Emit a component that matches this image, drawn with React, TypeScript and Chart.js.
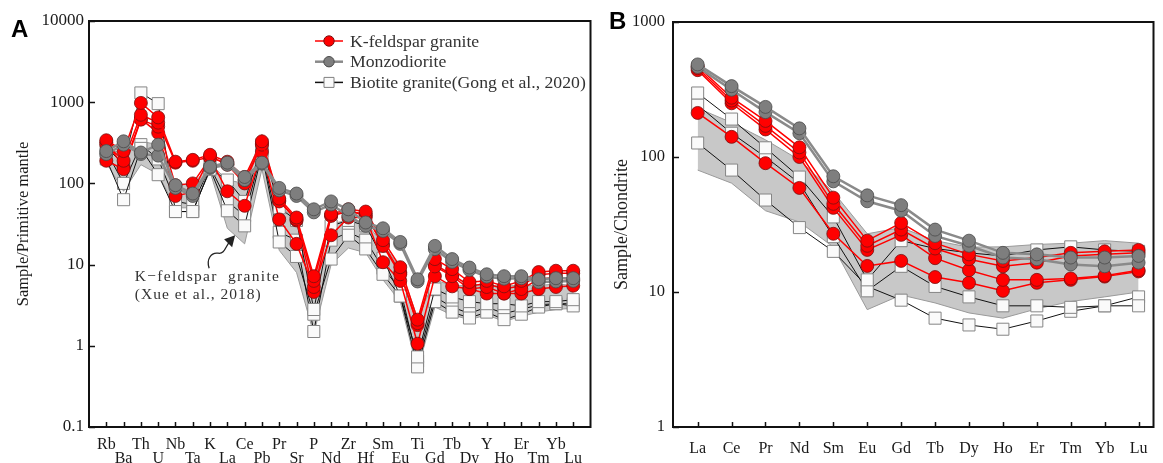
import React, { useEffect, useRef } from 'react';
import { Chart, registerables } from 'chart.js';

Chart.register(...registerables);

// ---------------- Panel A : primitive-mantle normalised spider diagram ----------------
const traceElements = ['Rb', 'Ba', 'Th', 'U', 'Nb', 'Ta', 'K', 'La', 'Ce', 'Pb', 'Pr', 'Sr', 'P', 'Nd', 'Zr', 'Hf', 'Sm', 'Eu', 'Ti', 'Gd', 'Tb', 'Dy', 'Y', 'Ho', 'Er', 'Tm', 'Yb', 'Lu'];
const traceYTicks = [0.1, 1, 10, 100, 1000, 10000];

const kfsTrace1 = [340, 250, 980, 650, 185, 195, 225, 185, 120, 330, 65, 38, 7.2, 42, 48, 45, 20, 9.3, 2.1, 11.7, 8.8, 6.1, 6.3, 5.4, 6.3, 8.1, 8.4, 8.4];
const kfsTrace2 = [300, 190, 700, 560, 180, 190, 210, 175, 110, 300, 60, 36, 6.3, 40, 45, 42, 17, 7.6, 1.9, 9.5, 7.2, 5.0, 5.3, 4.4, 5.0, 6.6, 7.0, 6.5];
const kfsTrace3 = [190, 150, 610, 500, 95, 100, 205, 80, 53, 245, 36, 18, 5.3, 23, 38, 38, 10.7, 6.3, 1.06, 7.2, 5.4, 5.0, 4.4, 4.4, 4.4, 5.0, 5.3, 5.5];
const kfsTrace4 = [320, 160, 620, 420, 70, 78, 215, 170, 100, 310, 62, 35, 4.6, 40, 46, 40, 18, 8.0, 1.8, 10, 7.5, 5.5, 5.8, 5.0, 5.5, 7.5, 7.8, 7.8];

const monzTrace1 = [250, 330, 240, 300, 95, 75, 160, 180, 120, 180, 88, 75, 48, 60, 48, 33, 28, 19, 6.6, 17, 11.7, 9.2, 7.6, 7.2, 7.2, 6.6, 6.8, 6.8];
const monzTrace2 = [230, 300, 230, 220, 88, 70, 155, 170, 110, 175, 82, 70, 44, 55, 40, 30, 26, 18, 6.2, 15.5, 10.8, 8.6, 7.1, 6.7, 6.8, 6.1, 6.2, 6.3];

const bioTrace1 = [280, 170, 1300, 960, 45, 45, 150, 110, 60, 300, 50, 35, 2.8, 30, 35, 30, 12, 4.1, 0.73, 5.0, 4.0, 3.5, 3.3, 3.3, 3.1, 3.5, 3.5, 3.7];
const bioTrace2 = [200, 63, 270, 128, 45, 45, 150, 46, 30, 230, 19, 12.6, 2.45, 11.7, 23, 15.6, 7.6, 4.1, 0.55, 3.5, 2.6, 2.2, 2.6, 2.1, 2.45, 3.0, 3.3, 3.1];
const bioTrace3 = [250, 100, 300, 200, 60, 55, 160, 60, 40, 250, 25, 20, 1.5, 20, 25, 20, 9, 5.0, 0.65, 4.0, 3.0, 2.5, 3.0, 2.5, 2.8, 3.2, 3.3, 3.3];

const xueUpperTrace = [270, 230, 330, 300, 100, 95, 175, 110, 100, 400, 55, 35, 7, 32, 35, 33, 18, 9, 2.2, 6.5, 5.5, 5.5, 5.5, 5.5, 5.5, 5.5, 5.8, 5.5];
const xueLowerTrace = [180, 80, 170, 130, 50, 50, 140, 28, 18, 150, 15, 8, 1.4, 10, 16, 14, 6.5, 3.5, 0.5, 3.0, 2.4, 2.1, 2.4, 2.0, 2.3, 2.6, 2.8, 2.9];

// ---------------- Panel B : chondrite-normalised REE diagram ----------------
const reeElements = ['La', 'Ce', 'Pr', 'Nd', 'Sm', 'Eu', 'Gd', 'Tb', 'Dy', 'Ho', 'Er', 'Tm', 'Yb', 'Lu'];
const reeYTicks = [1, 10, 100, 1000];

const kfsRee1 = [470, 275, 185, 118, 50, 24, 32.5, 23, 19, 17, 18, 19.5, 20, 20.5];
const kfsRee2 = [455, 262, 170, 108, 45, 22, 29, 21, 17.5, 15.5, 16.5, 18.5, 19, 19.5];
const kfsRee3 = [440, 250, 160, 100, 42, 20.5, 26.5, 17.8, 14.5, 12.3, 12.3, 12.6, 13.2, 14.5];
const kfsRee4 = [212, 141, 90, 59, 27, 15.6, 17, 12.9, 11.7, 10.2, 11.7, 12.3, 13, 14.2];

const monzRee1 = [485, 335, 235, 163, 72, 52, 44, 29, 24, 19.5, 19, 18, 18, 18.5];
const monzRee2 = [465, 315, 215, 150, 66, 47, 40, 26, 22, 18, 17.5, 16, 15.5, 16.5];

const bioRee1 = [298, 191, 117, 71, 36, 12.3, 24, 21, 19.5, 18.5, 20.5, 21.6, 20.5, 20];
const bioRee2 = [243, 150, 100, 64, 25.7, 10.2, 15.5, 11, 9.2, 7.9, 7.9, 7.7, 7.9, 7.9];
const bioRee3 = [127, 80, 48, 30, 20, 11, 8.7, 6.4, 5.7, 5.3, 6.1, 7.2, 7.9, 9.2];

const xueUpperRee = [230, 180, 134, 95, 55, 27, 30, 24, 21.5, 21.6, 22.5, 23, 24, 23];
const xueLowerRee = [80, 64, 40, 33, 21.6, 7.4, 9.5, 8.3, 7, 6.4, 7.5, 8.5, 9.2, 10];

// ---------------- styling ----------------
const SERIF = '"Liberation Serif", "DejaVu Serif", serif';
const TEXT = '#1a1a1a';

const toPoints = (values: number[]) => values.map((y, x) => ({ x, y }));

const redStyle = {
  borderColor: '#ff0000', borderWidth: 1.5, pointStyle: 'circle', pointRadius: 6.5,
  pointBackgroundColor: '#ff0000', pointBorderColor: '#7a1010', pointBorderWidth: 0.8, order: 2,
};
const grayStyle = {
  borderColor: '#8a8a8a', borderWidth: 2.5, pointStyle: 'circle', pointRadius: 6.5,
  pointBackgroundColor: '#7e7e7e', pointBorderColor: '#4a4a4a', pointBorderWidth: 0.8, order: 1,
};
const bioStyle = {
  borderColor: '#111111', borderWidth: 1, pointStyle: 'rect', pointRadius: 8.5,
  pointBackgroundColor: '#fafafa', pointBorderColor: '#858585', pointBorderWidth: 1, order: 3,
};

function buildDatasets(upper: number[], lower: number[], bio: number[][], kfs: number[][], monz: number[][]) {
  return [
    { data: toPoints(lower), borderColor: '#9a9a9a', borderWidth: 1, pointRadius: 0, fill: false, order: 10 },
    { data: toPoints(upper), borderColor: '#9a9a9a', borderWidth: 1, pointRadius: 0, fill: '-1', backgroundColor: '#c8c8c8', order: 9 },
    ...bio.map((d) => ({ data: toPoints(d), ...bioStyle })),
    ...kfs.map((d) => ({ data: toPoints(d), ...redStyle })),
    ...monz.map((d) => ({ data: toPoints(d), ...grayStyle })),
  ];
}

const frameAndTicks = {
  id: 'frameAndTicks',
  afterDraw(chart: any) {
    const { ctx, chartArea: a, scales } = chart;
    ctx.save();
    ctx.strokeStyle = '#111';
    ctx.lineWidth = 1.5;
    for (const t of scales.x.ticks) {
      const px = Math.round(scales.x.getPixelForValue(t.value)) + 0.5;
      ctx.beginPath(); ctx.moveTo(px, a.bottom); ctx.lineTo(px, a.bottom - 5); ctx.stroke();
    }
    for (const t of scales.y.ticks) {
      const py = Math.round(scales.y.getPixelForValue(t.value)) + 0.5;
      ctx.beginPath(); ctx.moveTo(a.left, py); ctx.lineTo(a.left + 6, py); ctx.stroke();
    }
    ctx.lineWidth = 2;
    ctx.strokeRect(a.left, a.top, a.right - a.left, a.bottom - a.top);
    ctx.restore();
  },
};

const legendItems = [
  { label: 'K-feldspar granite', line: '#ff0000', lw: 1.5, shape: 'circle', fill: '#ff0000', stroke: '#7a1010' },
  { label: 'Monzodiorite', line: '#8a8a8a', lw: 2.5, shape: 'circle', fill: '#7e7e7e', stroke: '#4a4a4a' },
  { label: 'Biotite granite(Gong et al., 2020)', line: '#111111', lw: 1.5, shape: 'rect', fill: '#fafafa', stroke: '#808080' },
];

const legendAndNote = {
  id: 'legendAndNote',
  afterDraw(chart: any) {
    const { ctx, chartArea: a, scales } = chart;
    ctx.save();
    // legend
    legendItems.forEach((it, i) => {
      const y = a.top + 20 + i * 20.7;
      const x0 = a.left + 226;
      ctx.strokeStyle = it.line; ctx.lineWidth = it.lw;
      ctx.beginPath(); ctx.moveTo(x0, y); ctx.lineTo(x0 + 28, y); ctx.stroke();
      ctx.fillStyle = it.fill; ctx.strokeStyle = it.stroke; ctx.lineWidth = 1;
      ctx.beginPath();
      if (it.shape === 'circle') ctx.arc(x0 + 14, y, 5.2, 0, Math.PI * 2);
      else ctx.rect(x0 + 14 - 5, y - 5, 10, 10);
      ctx.fill(); ctx.stroke();
      ctx.fillStyle = '#333'; ctx.font = `17.7px ${SERIF}`; ctx.textBaseline = 'middle'; ctx.textAlign = 'left';
      ctx.fillText(it.label, x0 + 35, y + 1);
    });
    // annotation for the Xue et al. field
    const tx = scales.x.getPixelForValue(1.65);
    ctx.fillStyle = '#333'; ctx.font = `15.5px ${SERIF}`; ctx.textBaseline = 'middle';
    (ctx as any).letterSpacing = '1.3px';
    ctx.fillText('K\u2212feldspar  granite', tx, scales.y.getPixelForValue(7));
    (ctx as any).letterSpacing = '1px';
    ctx.fillText('(Xue et al., 2018)', tx, scales.y.getPixelForValue(4.2));
    (ctx as any).letterSpacing = '0px';
    // arrow
    const ex = scales.x.getPixelForValue(7.45);
    const ey = scales.y.getPixelForValue(23);
    ctx.strokeStyle = '#222'; ctx.lineWidth = 1.3;
    ctx.beginPath();
    ctx.moveTo(ex - 26, ey + 33);
    ctx.bezierCurveTo(ex - 29, ey + 24, ex - 24, ey + 17, ex - 17, ey + 18);
    ctx.bezierCurveTo(ex - 10, ey + 19, ex - 10, ey + 11, ex - 5, ey + 6);
    ctx.stroke();
    ctx.fillStyle = '#222';
    ctx.beginPath();
    ctx.moveTo(ex, ey);
    ctx.lineTo(ex - 11, ey + 4);
    ctx.lineTo(ex - 3, ey + 12);
    ctx.closePath();
    ctx.fill();
    ctx.restore();
  },
};

function baseOptions(opts: any) {
  return {
    responsive: false,
    animation: false,
    devicePixelRatio: 1,
    events: [],
    layout: { padding: opts.padding },
    plugins: {
      legend: { display: false },
      tooltip: { enabled: false },
      filler: { drawTime: 'beforeDatasetsDraw' },
    },
    scales: {
      x: {
        type: 'linear', min: opts.xMin, max: opts.xMax,
        grid: { display: false, drawTicks: false }, border: { display: false },
        afterBuildTicks: (s: any) => { s.ticks = opts.labels.map((_: string, i: number) => ({ value: i })); },
        afterFit: (s: any) => { s.height = 36; },
        ticks: {
          autoSkip: false, maxRotation: 0, minRotation: 0, padding: opts.xPad, color: TEXT,
          font: { family: SERIF, size: 16, lineHeight: opts.xLineHeight },
          callback: opts.xLabel,
        },
      },
      y: {
        type: 'logarithmic', min: opts.yMin, max: opts.yMax,
        grid: { display: false, drawTicks: false }, border: { display: false },
        afterBuildTicks: (s: any) => { s.ticks = opts.yTicks.map((v: number) => ({ value: v })); },
        afterFit: (s: any) => { s.width = opts.yWidth; },
        ticks: { padding: opts.yPad, color: TEXT, font: { family: SERIF, size: opts.yFont }, callback: (v: any) => String(v) },
        title: {
          display: true, text: opts.yTitle, color: TEXT,
          font: { family: SERIF, size: opts.titleFont }, padding: { top: opts.titlePad, bottom: 0 },
        },
      },
    },
  };
}

export default function App() {
  const refA = useRef<HTMLCanvasElement>(null);
  const refB = useRef<HTMLCanvasElement>(null);

  useEffect(() => {
    const chartA = new Chart(refA.current as HTMLCanvasElement, {
      type: 'line',
      data: {
        datasets: buildDatasets(
          xueUpperTrace, xueLowerTrace,
          [bioTrace1, bioTrace2, bioTrace3],
          [kfsTrace1, kfsTrace2, kfsTrace3, kfsTrace4],
          [monzTrace1, monzTrace2],
        ) as any,
      },
      options: baseOptions({
        padding: { top: 21, right: 4, left: 0, bottom: 0 },
        xMin: -1, xMax: 28, labels: traceElements, xPad: 11, xLineHeight: 0.875,
        xLabel: (v: any) => {
          const i = Math.round(v);
          const l = traceElements[i] ?? '';
          return i % 2 === 0 ? [l, ''] : ['', l];
        },
        yMin: 0.1, yMax: 10000, yTicks: traceYTicks, yWidth: 89, yPad: 5, yFont: 17,
        yTitle: 'Sample/Primitive mantle', titlePad: 14, titleFont: 16.5,
      }) as any,
      plugins: [frameAndTicks, legendAndNote],
    });

    const chartB = new Chart(refB.current as HTMLCanvasElement, {
      type: 'line',
      data: {
        datasets: buildDatasets(
          xueUpperRee, xueLowerRee,
          [bioRee1, bioRee2, bioRee3],
          [kfsRee1, kfsRee2, kfsRee3, kfsRee4],
          [monzRee1, monzRee2],
        ) as any,
      },
      options: baseOptions({
        padding: { top: 22, right: 3, left: 0, bottom: 0 },
        xMin: -0.727, xMax: 13.44, labels: reeElements, xPad: 12.4, xLineHeight: 1.2,
        xLabel: (v: any) => reeElements[Math.round(v)] ?? '',
        yMin: 1, yMax: 1000, yTicks: reeYTicks, yWidth: 73, yPad: 8, yFont: 16.5,
        yTitle: 'Sample/Chondrite', titlePad: 11, titleFont: 18,
      }) as any,
      plugins: [frameAndTicks],
    });

    return () => { chartA.destroy(); chartB.destroy(); };
  }, []);

  const panelLetter = { position: 'absolute' as const, font: 'bold 24px "Liberation Sans", Arial, sans-serif', lineHeight: '24px', color: '#000' };

  return (
    <div style={{ position: 'absolute', left: 0, top: 0, width: 1163, height: 463, background: '#fff', overflow: 'hidden' }}>
      <canvas ref={refA} width={600} height={463} style={{ position: 'absolute', left: 0, top: 0 }} />
      <canvas ref={refB} width={563} height={463} style={{ position: 'absolute', left: 600, top: 0 }} />
      <div style={{ ...panelLetter, left: 11, top: 17 }}>A</div>
      <div style={{ ...panelLetter, left: 609, top: 9 }}>B</div>
    </div>
  );
}
